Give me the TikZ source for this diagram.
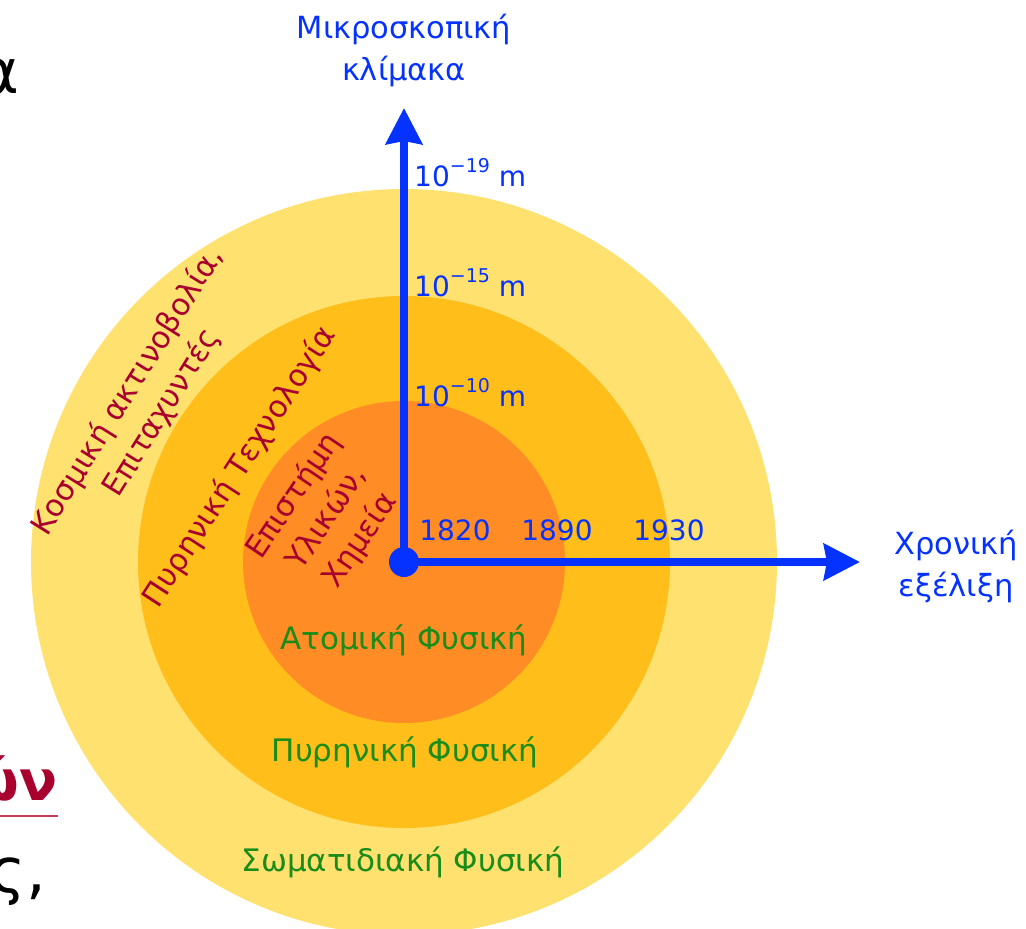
\documentclass[tikz,border=0pt]{standalone}
\usepackage{fontspec}
\setmainfont{DejaVu Sans}
\usetikzlibrary{arrows.meta}
\definecolor{axblue}{RGB}{5,50,255}
\definecolor{lbred}{RGB}{168,0,46}
\definecolor{lbgreen}{RGB}{25,140,25}
\definecolor{ringA}{RGB}{255,225,112}
\definecolor{ringB}{RGB}{255,190,26}
\definecolor{ringC}{RGB}{255,140,36}
\definecolor{ulred}{RGB}{200,60,90}
\newcommand{\expo}[1]{\raisebox{0.5em}{\fontsize{19}{19}\selectfont #1}}
\tikzset{
  px/.style={x=1pt,y=-1pt},
  axis/.style={draw=axblue,line width=8pt,-{Stealth[length=36pt,width=36pt,inset=3pt]}},
  bluetxt/.style={text=axblue,font=\fontsize{30.5}{42}\selectfont,inner sep=0pt},
  numtxt/.style={text=axblue,font=\fontsize{28}{30}\selectfont,inner sep=0pt},
  greentxt/.style={text=lbgreen,font=\fontsize{31}{34}\selectfont,inner sep=0pt},
  redtxt/.style={text=lbred,font=\fontsize{30.5}{40}\selectfont,inner sep=0pt,align=center},
}
\begin{document}
\begin{tikzpicture}[px]
\useasboundingbox (0,0) rectangle (1026,929);
\coordinate (O) at (404,562);
\fill[ringA] (O) circle[radius=373];
\fill[ringB] (O) circle[radius=266];
\fill[ringC] (O) circle[radius=161];
\coordinate (ytip) at (404,108);
\coordinate (xtip) at (860,562);
\draw[axis] (O) -- (ytip);
\draw[axis] (O) -- (xtip);
\fill[axblue] (O) circle[radius=15];
% axis labels
\node[bluetxt,align=center] (ylab) at (404,50) {Μικροσκοπική\\κλίμακα};
\node[bluetxt,align=center] (xlab) at (956,566) {Χρονική\\εξέλιξη};
\node[numtxt,anchor=west] (t19) at (414,173) {10\expo{−19} m};
\node[numtxt,anchor=west] (t15) at (414,283) {10\expo{−15} m};
\node[numtxt,anchor=west] (t10) at (414,393) {10\expo{−10} m};
\node[numtxt] (y1820) at (455,530) {1820};
\node[numtxt] (y1890) at (557,530) {1890};
\node[numtxt] (y1930) at (669,530) {1930};
% green labels
\node[greentxt] (atom) at (404,640) {Ατομική Φυσική};
\node[greentxt] (nucl) at (405,752) {Πυρηνική Φυσική};
\node[greentxt] (part) at (403,862) {Σωματιδιακή Φυσική};
% rotated red labels
\node[redtxt,rotate=58] (cosm) at (145,402) {Κοσμική ακτινοβολία,\\Επιταχυντές};
\node[redtxt,rotate=57] (ntech) at (240,467) {Πυρηνική Τεχνολογία};
\node[redtxt,rotate=56] (mat) at (327,518) {Επιστήμη\\Υλικών,\\Χημεία};
% fragments of surrounding slide text
\node[anchor=base east,inner sep=0pt,font=\fontsize{62}{62}\selectfont] (fa) at (20,93) {α};
\node[anchor=base east,inner sep=0pt,text=lbred,font=\fontsize{56}{56}\selectfont\bfseries] (fon) at (58,800) {ών};
\coordinate (ul1) at (0,816);
\coordinate (ul2) at (58,816);
\draw[ulred,line width=2.5pt] (ul1) -- (ul2);
\node[anchor=base east,inner sep=0pt,font=\fontsize{62}{62}\selectfont] (fs) at (46,892) {ς,};
\end{tikzpicture}
\end{document}
